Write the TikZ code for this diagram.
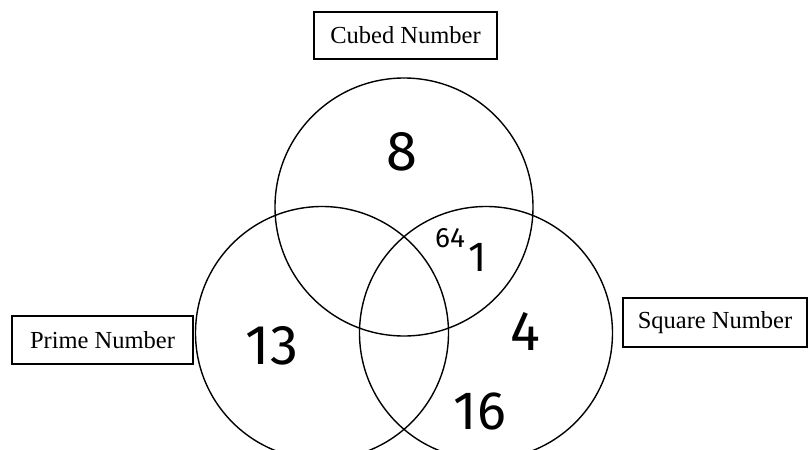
\documentclass[tikz,border=0pt]{standalone}
\usepackage{fontspec}
\setmainfont{Liberation Serif}
\newfontfamily\handfont{Fira Sans}
\usetikzlibrary{positioning}

\begin{document}
\begin{tikzpicture}[
    x=1pt, y=-1pt,
    setcircle/.style={draw, circle, line width=1.4pt, inner sep=0pt},
    setlabel/.style={draw, line width=1.1pt, minimum width=183pt, minimum height=47pt, inner sep=0pt, font=\fontsize{24.5}{26}\selectfont},
    hand/.style={inner sep=0pt, font=\handfont\fontsize{#1}{#1}\selectfont},
    hand/.default=56
  ]
    \useasboundingbox (0,0) rectangle (812,450);
    % the three sets
    \node[setcircle, minimum size=258pt] (cubed) at (404,207) {};
    \node[setcircle, minimum size=253pt] (prime) at (322,333) {};
    \node[setcircle, minimum size=253pt] (square) at (486,333) {};
    % set names
    \node[setlabel] (cubedname) at (405.5,35.5) {Cubed Number};
    \node[setlabel, minimum width=181pt, minimum height=48pt] (primename) at (102.5,340) {Prime Number};
    \node[setlabel, minimum width=184pt, minimum height=49pt] (squarename) at (715,322.5) {Square Number};
    % entries
    \node[hand] (eight) at (402,152) {8};
    \node[hand] (thirteen) at (272,346) {13};
    \node[hand] (four) at (525,331) {4};
    \node[hand=54] (sixteen) at (480,411) {16};
    \node[hand=28] (sixtyfour) at (450,238) {64};
    \node[hand=42] (one) at (478,257) {1};
  \end{tikzpicture}
\end{document}
